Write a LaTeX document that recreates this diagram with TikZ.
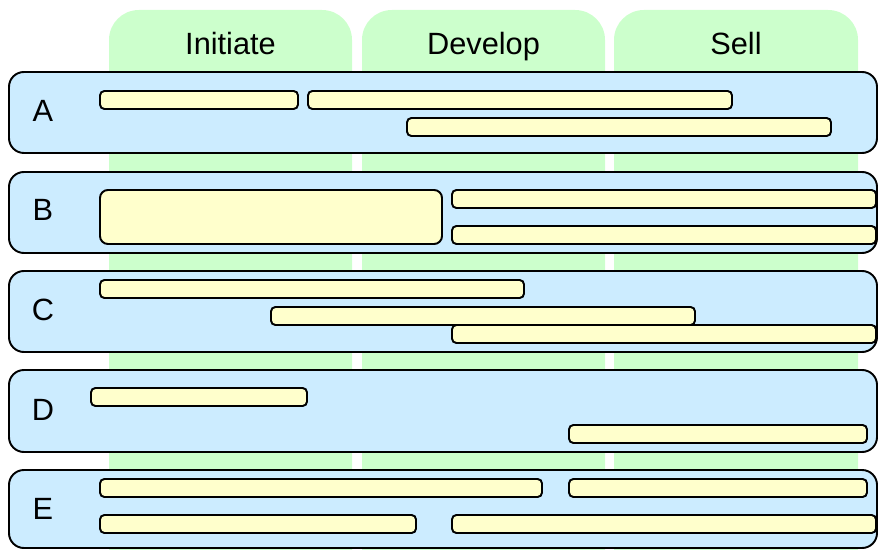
\documentclass[tikz,border=0pt]{standalone}
\usepackage{fontspec}
\setmainfont{Liberation Sans}
\usepackage{tikz}
\usetikzlibrary{positioning, fit}
\definecolor{phaseGreen}{RGB}{204, 255, 204}
\definecolor{rowBlue}{RGB}{204, 236, 255}
\definecolor{barYellow}{RGB}{255, 255, 204}

\begin{document}
\begin{tikzpicture}[
        x=0.02cm, y=-0.02cm,
        font=\fontsize{17.5}{20}\selectfont,
        phase/.style={rectangle, rounded corners=17pt, fill=phaseGreen, inner sep=0pt},
        row/.style={rectangle, rounded corners=8.5pt, draw=black, line width=1.1pt, fill=rowBlue, inner sep=0pt},
        bar/.style={rectangle, rounded corners=2.5pt, draw=black, line width=1.1pt, fill=barYellow, inner sep=0pt},
        head/.style={anchor=base},
        lbl/.style={anchor=base}
    ]
    \useasboundingbox (0,0) rectangle (878,550);

    % phases
    \node[phase, fit={(109,10) (352,600)}] (initiate) {};
    \node[phase, fit={(362,10) (605,600)}] (develop) {};
    \node[phase, fit={(614,10) (858,600)}] (sell) {};
    \node[head] (tInit) at (230.5,55) {Initiate};
    \node[head] (tDev)  at (483.5,55) {Develop};
    \node[head] (tSell) at (736,55)   {Sell};

    % rows
    \node[row, fit={(9,72) (877,153)}]  (rowA) {};
    \node[row, fit={(9,172) (877,253)}] (rowB) {};
    \node[row, fit={(9,271) (877,352)}] (rowC) {};
    \node[row, fit={(9,370) (877,452)}] (rowD) {};
    \node[row, fit={(9,470) (877,548)}] (rowE) {};
    \node[lbl] (lA) at (43,122) {A};
    \node[lbl] (lB) at (43,221) {B};
    \node[lbl] (lC) at (43,320) {C};
    \node[lbl] (lD) at (43,420) {D};
    \node[lbl] (lE) at (43,519) {E};

    % bars
    \node[bar, fit={(100,91) (298,109)}]  (a1) {};
    \node[bar, fit={(308,91) (732,109)}]  (a2) {};
    \node[bar, fit={(407,118) (831,136)}] (a3) {};

    \node[bar, rounded corners=4.5pt, fit={(100,190) (442,244)}] (b1) {};
    \node[bar, fit={(452,190) (876,208)}] (b2) {};
    \node[bar, fit={(452,226) (876,244)}] (b3) {};

    \node[bar, fit={(100,280) (524,298)}] (c1) {};
    \node[bar, fit={(271,307) (695,325)}] (c2) {};
    \node[bar, fit={(452,325) (876,343)}] (c3) {};

    \node[bar, fit={(91,388) (307,406)}]  (d1) {};
    \node[bar, fit={(569,425) (867,443)}] (d2) {};

    \node[bar, fit={(100,479) (542,497)}] (e1) {};
    \node[bar, fit={(569,479) (867,497)}] (e2) {};
    \node[bar, fit={(100,515) (416,533)}] (e3) {};
    \node[bar, fit={(452,515) (876,533)}] (e4) {};
\end{tikzpicture}
\end{document}
